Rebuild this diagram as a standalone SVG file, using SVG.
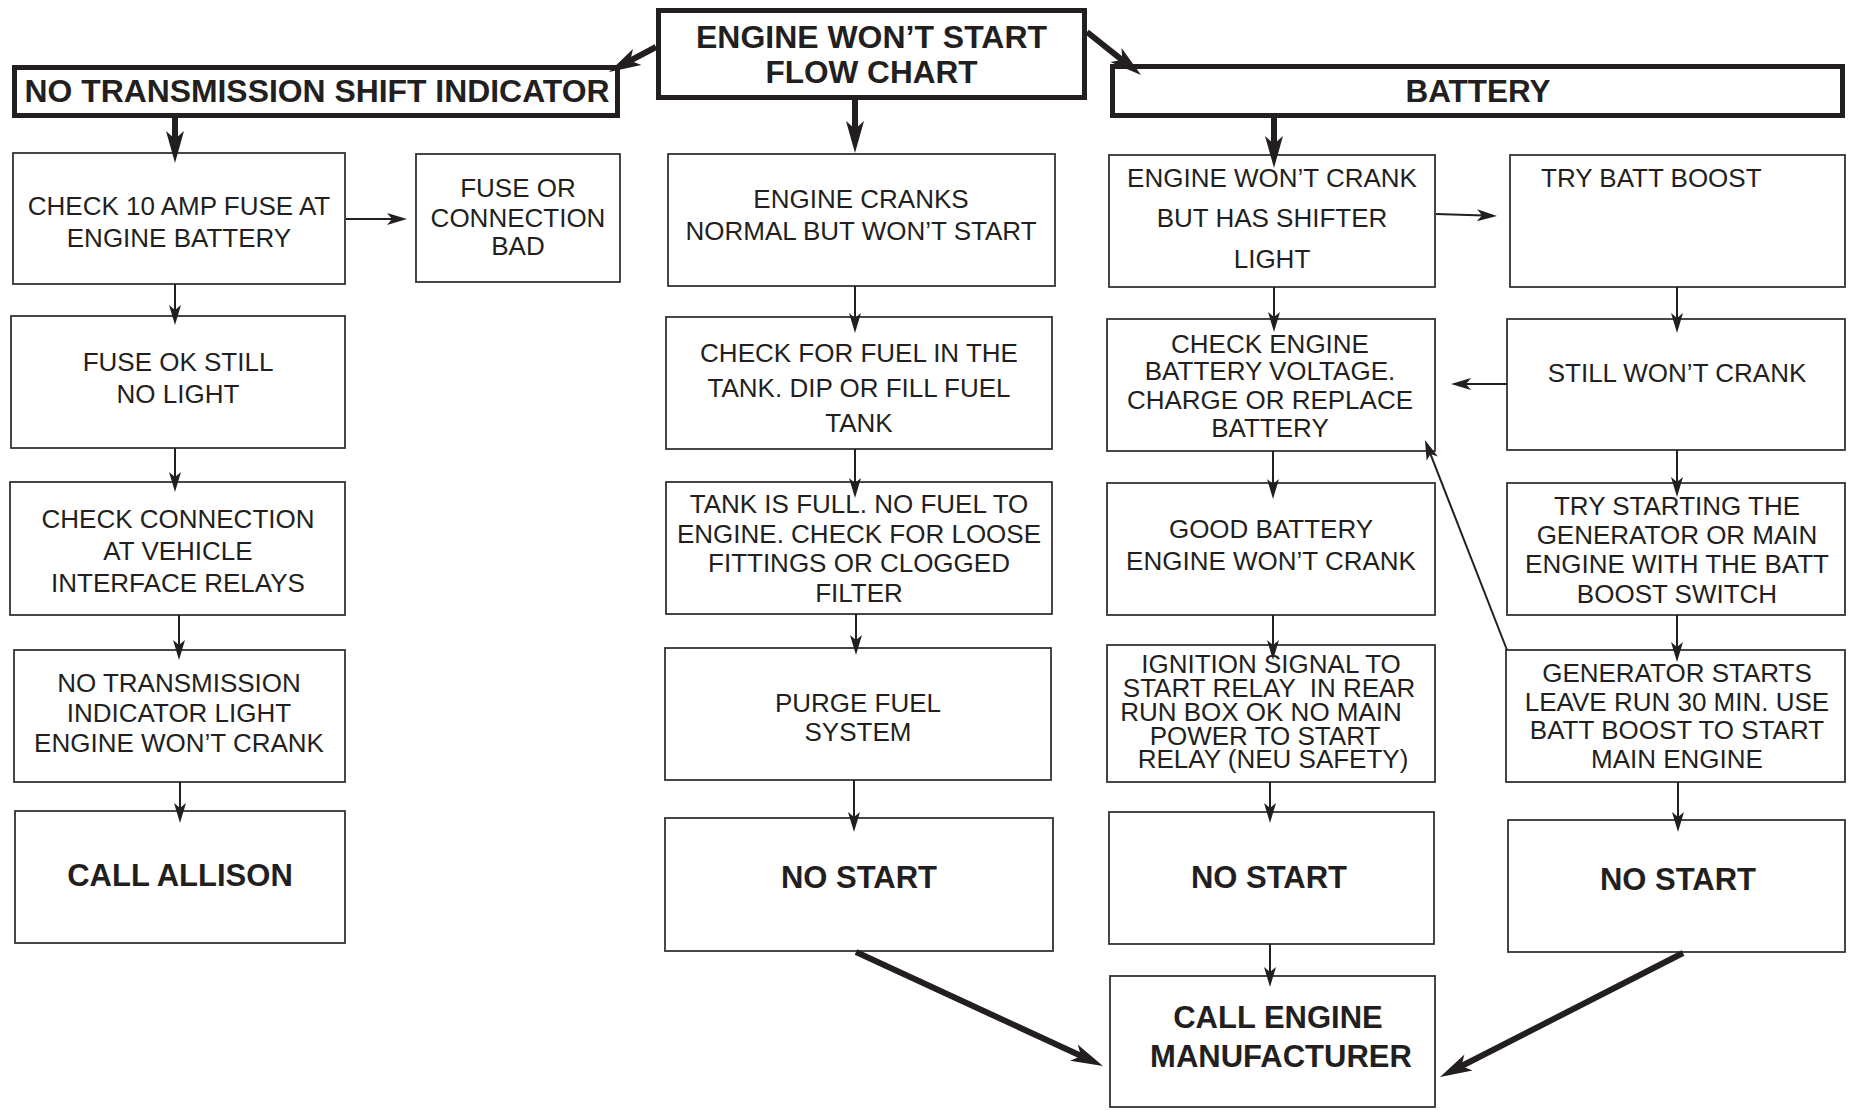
<svg xmlns="http://www.w3.org/2000/svg" width="1849" height="1110" viewBox="0 0 1849 1110">
  <style>
    .box { fill: #ffffff; stroke: #333333; stroke-width: 1.8; }
    .hdr { fill: #ffffff; stroke: #231f20; stroke-width: 5; }
    text { font-family: "Liberation Sans", Arial, Helvetica, sans-serif; fill: #231f20; text-anchor: middle; }
    .t { font-size: 26px; }
    .b { font-size: 31px; font-weight: bold; }
    .thin { fill: none; stroke: #231f20; stroke-width: 2; marker-end: url(#headThin); }
    .thick { fill: none; stroke: #231f20; stroke-width: 6; marker-end: url(#headThick); }
  </style>
  <defs>
    <marker id="headThin" markerUnits="userSpaceOnUse" viewBox="0 -8 22 16" markerWidth="22" markerHeight="16" refX="7" refY="0" orient="auto" overflow="visible">
      <path d="M0,-6 L20,0 L0,6 L5,0 Z" fill="#231f20"/>
    </marker>
    <marker id="headThick" markerUnits="userSpaceOnUse" viewBox="0 -10 34 20" markerWidth="34" markerHeight="20" refX="10" refY="0" orient="auto" overflow="visible">
      <path d="M0,-9 L32,0 L0,9 L8,0 Z" fill="#231f20"/>
    </marker>
  </defs>

  <rect width="1849" height="1110" fill="#ffffff"/>

  <!-- headers -->
  <g id="title">
    <rect class="hdr" x="658.5" y="10.5" width="426" height="87"/>
    <text class="b" x="871.5" y="48" textLength="351" lengthAdjust="spacingAndGlyphs">ENGINE WON’T START</text>
    <text class="b" x="871.5" y="83" textLength="212" lengthAdjust="spacingAndGlyphs">FLOW CHART</text>
  </g>
  <g id="hdr-transmission">
    <rect class="hdr" x="14.5" y="67.5" width="603" height="48"/>
    <text class="b" x="317" y="102" textLength="585" lengthAdjust="spacingAndGlyphs">NO TRANSMISSION SHIFT INDICATOR</text>
  </g>
  <g id="hdr-battery">
    <rect class="hdr" x="1112.5" y="66.5" width="730" height="49"/>
    <text class="b" x="1478" y="102" textLength="145" lengthAdjust="spacingAndGlyphs">BATTERY</text>
  </g>

  <!-- left column -->
  <g id="check-fuse">
    <rect class="box" x="13" y="153" width="332" height="131"/>
    <text class="t" x="179" y="215">CHECK 10 AMP FUSE AT</text>
    <text class="t" x="179" y="247">ENGINE BATTERY</text>
  </g>
  <g id="fuse-bad">
    <rect class="box" x="416" y="154" width="204" height="128"/>
    <text class="t" x="518" y="197">FUSE OR</text>
    <text class="t" x="518" y="227">CONNECTION</text>
    <text class="t" x="518" y="255">BAD</text>
  </g>
  <g id="fuse-ok">
    <rect class="box" x="11" y="316" width="334" height="132"/>
    <text class="t" x="178" y="371">FUSE OK STILL</text>
    <text class="t" x="178" y="403">NO LIGHT</text>
  </g>
  <g id="check-relays">
    <rect class="box" x="10" y="482" width="335" height="133"/>
    <text class="t" x="178" y="528">CHECK CONNECTION</text>
    <text class="t" x="178" y="560">AT VEHICLE</text>
    <text class="t" x="178" y="592">INTERFACE RELAYS</text>
  </g>
  <g id="no-indicator">
    <rect class="box" x="14" y="650" width="331" height="132"/>
    <text class="t" x="179" y="692">NO TRANSMISSION</text>
    <text class="t" x="179" y="722">INDICATOR LIGHT</text>
    <text class="t" x="179" y="752">ENGINE WON’T CRANK</text>
  </g>
  <g id="call-allison">
    <rect class="box" x="15" y="811" width="330" height="132"/>
    <text class="b" x="180" y="886">CALL ALLISON</text>
  </g>

  <!-- centre column -->
  <g id="cranks-normal">
    <rect class="box" x="668" y="154" width="387" height="132"/>
    <text class="t" x="861" y="208">ENGINE CRANKS</text>
    <text class="t" x="861" y="240">NORMAL BUT WON’T START</text>
  </g>
  <g id="check-fuel">
    <rect class="box" x="666" y="317" width="386" height="132"/>
    <text class="t" x="859" y="362">CHECK FOR FUEL IN THE</text>
    <text class="t" x="859" y="397">TANK. DIP OR FILL FUEL</text>
    <text class="t" x="859" y="432">TANK</text>
  </g>
  <g id="tank-full">
    <rect class="box" x="666" y="482" width="386" height="132"/>
    <text class="t" x="859" y="513">TANK IS FULL. NO FUEL TO</text>
    <text class="t" x="859" y="543">ENGINE. CHECK FOR LOOSE</text>
    <text class="t" x="859" y="572">FITTINGS OR CLOGGED</text>
    <text class="t" x="859" y="602">FILTER</text>
  </g>
  <g id="purge-fuel">
    <rect class="box" x="665" y="648" width="386" height="132"/>
    <text class="t" x="858" y="712">PURGE FUEL</text>
    <text class="t" x="858" y="741">SYSTEM</text>
  </g>
  <g id="no-start-fuel">
    <rect class="box" x="665" y="818" width="388" height="133"/>
    <text class="b" x="859" y="888">NO START</text>
  </g>

  <!-- battery column -->
  <g id="wont-crank-light">
    <rect class="box" x="1109" y="155" width="326" height="132"/>
    <text class="t" x="1272" y="187">ENGINE WON’T CRANK</text>
    <text class="t" x="1272" y="227">BUT HAS SHIFTER</text>
    <text class="t" x="1272" y="268">LIGHT</text>
  </g>
  <g id="check-voltage">
    <rect class="box" x="1107" y="319" width="328" height="132"/>
    <text class="t" x="1270" y="353">CHECK ENGINE</text>
    <text class="t" x="1270" y="380">BATTERY VOLTAGE.</text>
    <text class="t" x="1270" y="409">CHARGE OR REPLACE</text>
    <text class="t" x="1270" y="437">BATTERY</text>
  </g>
  <g id="good-battery">
    <rect class="box" x="1107" y="483" width="328" height="132"/>
    <text class="t" x="1271" y="538">GOOD BATTERY</text>
    <text class="t" x="1271" y="570">ENGINE WON’T CRANK</text>
  </g>
  <g id="ignition-signal">
    <rect class="box" x="1107" y="645" width="328" height="137"/>
    <text class="t" x="1271" y="673">IGNITION SIGNAL TO</text>
    <text class="t" x="1269" y="697" xml:space="preserve">START RELAY  IN REAR</text>
    <text class="t" x="1261" y="721">RUN BOX OK NO MAIN</text>
    <text class="t" x="1265" y="745">POWER TO START</text>
    <text class="t" x="1273" y="768">RELAY (NEU SAFETY)</text>
  </g>
  <g id="no-start-battery">
    <rect class="box" x="1109" y="812" width="325" height="132"/>
    <text class="b" x="1269" y="888">NO START</text>
  </g>
  <g id="call-manufacturer">
    <rect class="box" x="1110" y="976" width="325" height="131"/>
    <text class="b" x="1278" y="1028">CALL ENGINE</text>
    <text class="b" x="1281" y="1067">MANUFACTURER</text>
  </g>

  <!-- boost column -->
  <g id="batt-boost">
    <rect class="box" x="1510" y="155" width="335" height="132"/>
    <text class="t" x="1541" y="187" style="text-anchor:start">TRY BATT BOOST</text>
  </g>
  <g id="still-wont-crank">
    <rect class="box" x="1507" y="319" width="338" height="131"/>
    <text class="t" x="1677" y="382">STILL WON’T CRANK</text>
  </g>
  <g id="try-generator">
    <rect class="box" x="1507" y="483" width="338" height="132"/>
    <text class="t" x="1677" y="515">TRY STARTING THE</text>
    <text class="t" x="1677" y="544">GENERATOR OR MAIN</text>
    <text class="t" x="1677" y="573">ENGINE WITH THE BATT</text>
    <text class="t" x="1677" y="603">BOOST SWITCH</text>
  </g>
  <g id="generator-starts">
    <rect class="box" x="1506" y="650" width="339" height="132"/>
    <text class="t" x="1677" y="682">GENERATOR STARTS</text>
    <text class="t" x="1677" y="711">LEAVE RUN 30 MIN. USE</text>
    <text class="t" x="1677" y="739">BATT BOOST TO START</text>
    <text class="t" x="1677" y="768">MAIN ENGINE</text>
  </g>
  <g id="no-start-boost">
    <rect class="box" x="1508" y="820" width="337" height="132"/>
    <text class="b" x="1678" y="890">NO START</text>
  </g>

  <!-- connectors -->
  <g id="connectors">
    <!-- heavy arrows from the title and headers -->
    <path class="thick" d="M656,47 L628.4,61.7"/>
    <path class="thick" d="M855,100 L855,131"/>
    <path class="thick" d="M1087,32 L1123.8,61.3"/>
    <path class="thick" d="M175,118 L175,141"/>
    <path class="thick" d="M1274,118 L1274,146"/>
    <path class="thick" d="M856,952 L1083,1056.8"/>
    <path class="thick" d="M1683,953 L1459.6,1067"/>

    <!-- left column -->
    <path class="thin" d="M346,219 L394,219"/>
    <path class="thin" d="M175,284 L175,312"/>
    <path class="thin" d="M175,448 L175,479"/>
    <path class="thin" d="M179,615 L179,647"/>
    <path class="thin" d="M180,782 L180,810"/>

    <!-- centre column -->
    <path class="thin" d="M855,286 L855,320"/>
    <path class="thin" d="M855,449 L855,485"/>
    <path class="thin" d="M856,614 L856,642"/>
    <path class="thin" d="M854,780 L854,819"/>

    <!-- battery column -->
    <path class="thin" d="M1436,214 L1484,215.6"/>
    <path class="thin" d="M1274,287 L1274,319"/>
    <path class="thin" d="M1273,451 L1273,486"/>
    <path class="thin" d="M1273,615 L1273,647"/>
    <path class="thin" d="M1270,782 L1270,810"/>
    <path class="thin" d="M1270,944 L1270,974"/>

    <!-- boost column -->
    <path class="thin" d="M1677,287 L1677,320"/>
    <path class="thin" d="M1507,384 L1464,384"/>
    <path class="thin" d="M1677,450 L1677,484"/>
    <path class="thin" d="M1677,615 L1677,649"/>
    <path class="thin" d="M1678,782 L1678,819"/>
    <path class="thin" d="M1507,650 L1429.7,452.1"/>
  </g>
</svg>
